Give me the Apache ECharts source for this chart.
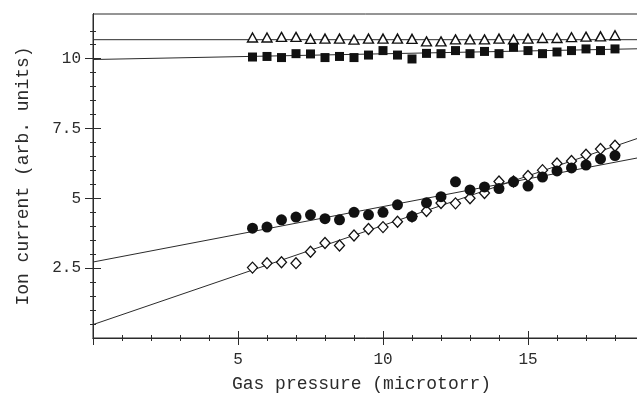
<!DOCTYPE html>
<html>
<head>
<meta charset="utf-8">
<script src="https://cdn.jsdelivr.net/npm/echarts@6/dist/echarts.min.js"></script>
<style>
  html, body { margin: 0; background: #fff; }
  #chart { width: 637px; height: 404px; }
</style>
</head>
<body>
<div id="chart"></div>
<script>
// gas pressure (microtorr) of every measured point
const pressure = [5.5, 6, 6.5, 7, 7.5, 8, 8.5, 9, 9.5, 10, 10.5, 11, 11.5,
                  12, 12.5, 13, 13.5, 14, 14.5, 15, 15.5, 16, 16.5, 17, 17.5, 18];
// open triangles
const triangles = [10.76, 10.76, 10.78, 10.78, 10.71, 10.72, 10.72, 10.68, 10.72, 10.72, 10.72, 10.71, 10.62,
                   10.62, 10.69, 10.69, 10.69, 10.72, 10.69, 10.72, 10.74, 10.74, 10.77, 10.79, 10.80, 10.84];
// filled squares
const squares = [10.06, 10.08, 10.04, 10.18, 10.17, 10.04, 10.08, 10.04, 10.13, 10.29, 10.13, 9.99, 10.19,
                 10.18, 10.29, 10.18, 10.26, 10.18, 10.41, 10.29, 10.18, 10.24, 10.29, 10.35, 10.29, 10.35];
// filled circles
const circles = [3.93, 3.97, 4.23, 4.33, 4.41, 4.27, 4.23, 4.50, 4.41, 4.50, 4.77, 4.35, 4.84,
                 5.06, 5.59, 5.30, 5.41, 5.35, 5.59, 5.44, 5.76, 5.98, 6.09, 6.19, 6.41, 6.53];
// open diamonds
const diamonds = [2.52, 2.68, 2.71, 2.68, 3.09, 3.40, 3.31, 3.67, 3.90, 3.97, 4.16, 4.35, 4.55,
                  4.83, 4.82, 5.00, 5.19, 5.60, 5.60, 5.80, 6.01, 6.25, 6.34, 6.56, 6.77, 6.88];

// straight fit lines, given by their two end points
const fitX = [0, 20];
const fitTriangles = [10.68, 10.68];
const fitSquares = [9.97, 10.38];
const fitCircles = [2.72, 6.69];
const fitDiamonds = [0.48, 7.58];

// y axis ticks
const yMajorTicks = [2.5, 5, 7.5, 10];
const yMinorTicks = [0.5, 1, 1.5, 2, 2.5, 3, 3.5, 4, 4.5, 5, 5.5, 6, 6.5, 7, 7.5, 8, 8.5, 9, 9.5, 10, 10.5, 11];

const ink = '#2b2b2b';
const font = 'Liberation Mono';

function pairs(xs, ys) {
  return xs.map((x, i) => [x, ys[i]]);
}

let myChart = echarts.init(document.getElementById('chart'), null, { renderer: 'canvas' });

// x axes: two copies, ticks outside and inside, so every tick crosses the axis
function xAx(inside, main) {
  return {
    type: 'value',
    min: 0,
    max: 20,
    interval: 5,
    position: 'bottom',
    name: main ? 'Gas pressure (microtorr)' : '',
    nameLocation: 'middle',
    nameGap: 37,
    nameTextStyle: { fontFamily: font, fontSize: 18, color: ink, padding: [0, 43, 0, 0] },
    axisLine: { show: true, lineStyle: { color: ink, width: 1 } },
    axisTick: { show: true, inside: inside, length: 7, lineStyle: { color: ink } },
    minorTick: { show: true, splitNumber: 5, length: 3, lineStyle: { color: ink } },
    axisLabel: {
      show: main,
      margin: 14,
      fontFamily: font,
      fontSize: 16,
      color: ink,
      formatter: v => (v === 0 || v === 20 ? '' : String(v))
    },
    splitLine: { show: false },
    minorSplitLine: { show: false }
  };
}

function yAx(inside, ticks, len, main) {
  return {
    type: 'value',
    min: 0,
    max: 11.6,
    position: 'left',
    name: main ? 'Ion current (arb. units)' : '',
    nameLocation: 'middle',
    nameGap: 61,
    nameTextStyle: { fontFamily: font, fontSize: 18, color: ink },
    axisLine: { show: true, lineStyle: { color: ink, width: 1 } },
    axisTick: { show: true, inside: inside, length: len, customValues: ticks, lineStyle: { color: ink } },
    axisLabel: {
      show: main,
      customValues: yMajorTicks,
      margin: 12,
      fontFamily: font,
      fontSize: 16,
      color: ink
    },
    splitLine: { show: false }
  };
}

myChart.setOption({
  animation: false,
  backgroundColor: '#fff',
  grid: {
    show: true,
    left: 93,
    top: 14,
    width: 580,
    height: 324,
    outerBoundsMode: 'none',
    containLabel: false,
    borderColor: ink,
    borderWidth: 1,
    backgroundColor: 'transparent'
  },
  xAxis: [xAx(false, true), xAx(true, false)],
  yAxis: [
    yAx(false, yMajorTicks, 8, true),
    yAx(true, yMajorTicks, 8, false),
    yAx(false, yMinorTicks, 3, false),
    yAx(true, yMinorTicks, 3, false)
  ],
  series: [
    { type: 'line', data: pairs(fitX, fitTriangles), symbol: 'none', silent: true, z: 1,
      lineStyle: { color: ink, width: 1 } },
    { type: 'line', data: pairs(fitX, fitSquares), symbol: 'none', silent: true, z: 1,
      lineStyle: { color: ink, width: 1 } },
    { type: 'line', data: pairs(fitX, fitCircles), symbol: 'none', silent: true, z: 1,
      lineStyle: { color: ink, width: 1 } },
    { type: 'line', data: pairs(fitX, fitDiamonds), symbol: 'none', silent: true, z: 1,
      lineStyle: { color: ink, width: 1 } },
    {
      name: 'triangles', type: 'scatter', data: pairs(pressure, triangles), z: 3,
      symbol: 'triangle', symbolSize: [10, 9],
      itemStyle: { color: '#fff', borderColor: '#111', borderWidth: 1.4, opacity: 1 }
    },
    {
      name: 'squares', type: 'scatter', data: pairs(pressure, squares), z: 3,
      symbol: 'rect', symbolSize: 9,
      itemStyle: { color: '#111', opacity: 1 }
    },
    {
      name: 'diamonds', type: 'scatter', data: pairs(pressure, diamonds), z: 3,
      symbol: 'diamond', symbolSize: [10, 11],
      itemStyle: { color: '#fff', borderColor: '#111', borderWidth: 1.3, opacity: 1 }
    },
    {
      name: 'circles', type: 'scatter', data: pairs(pressure, circles), z: 4,
      symbol: 'circle', symbolSize: 11,
      itemStyle: { color: '#111', opacity: 1 }
    }
  ]
});

window.addEventListener('resize', () => {
  myChart.resize();
});
</script>
</body>
</html>
